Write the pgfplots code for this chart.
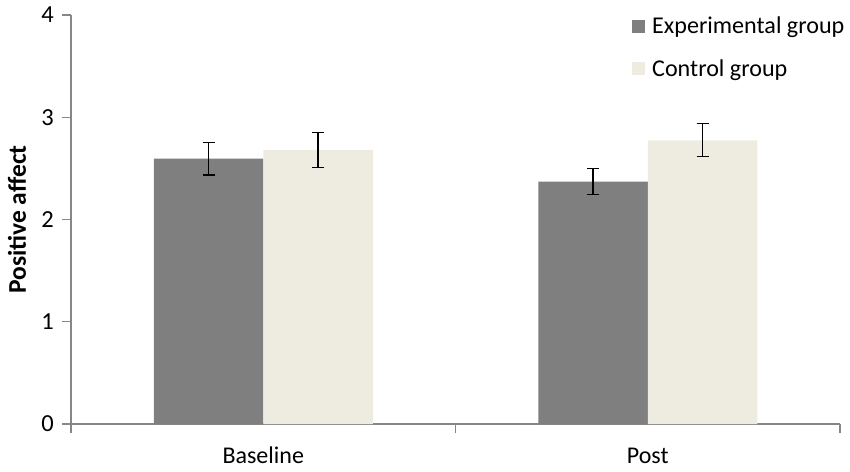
\documentclass[border=0pt]{standalone}
\usepackage{pgfplots}
\pgfplotsset{compat=1.18}
\usepackage{fontspec}
\setmainfont{Carlito}
\definecolor{expc}{HTML}{7F7F7F}
\definecolor{ctlc}{HTML}{EEECE1}
\definecolor{axc}{HTML}{878787}
\begin{document}
\begin{tikzpicture}
\begin{axis}[
  scale only axis,
  width=769pt, height=409pt,
  xmin=-0.5, xmax=1.5, ymin=0, ymax=4,
  axis x line=bottom, axis y line=left,
  axis line style={-, draw=axc, line width=1.3pt},
  font=\fontsize{24}{28.8}\selectfont,
  ticklabel style={font=\fontsize{24}{28.8}\selectfont},
  yticklabel style={font=\fontsize{24.5}{29}\selectfont, xshift=-5pt},
  /pgf/number format/assume math mode=true,
  ytick={0,1,2,3,4},
  xtick={-0.5,0.5,1.5}, xticklabels={},
  extra x ticks={0,1}, extra x tick labels={Baseline,Post},
  extra x tick style={major tick length=0pt,
    xticklabel style={anchor=base, text height=16pt, text depth=5pt, yshift=-39pt}},
  tick align=outside,
  major tick length=8.7pt,
  every tick/.style={draw=axc, line width=1.3pt},
  ylabel={\bfseries Positive affect},
  ylabel style={at={(rel axis cs:0,0.5)}, anchor=center, yshift=54pt,
    font=\fontsize{25.5}{30}\selectfont},
  ybar,
  bar width=109.5pt,
  legend image code/.code={\fill[#1] (0pt,-6.5pt) rectangle (13pt,6.5pt);},
  legend style={draw=none, fill=none, at={(rel axis cs:0.7295,0.995)}, anchor=north west,
    font=\fontsize{24.1}{28.8}\selectfont, row sep=24pt, inner sep=0pt,
    nodes={inner sep=0pt, anchor=west}},
  legend cell align=left,
  error bars/error bar style={line width=1.2pt, black},
  error bars/error mark options={rotate=90, mark size=6pt, line width=1.2pt, black},
]
\addplot[fill=expc, draw=none, bar shift=-54.75pt,
  error bars/.cd, y dir=both, y explicit]
  coordinates {(0,2.595) +- (0,0.16) (1,2.37) +- (0,0.125)};
\addlegendentry{\hspace{7pt}Experimental group}
\addplot[fill=ctlc, draw=none, bar shift=54.75pt,
  error bars/.cd, y dir=both, y explicit]
  coordinates {(0,2.68) +- (0,0.17) (1,2.775) +- (0,0.16)};
\addlegendentry{\hspace{7pt}Control group}
\end{axis}
\pgfresetboundingbox
\path (-71pt,-47pt) rectangle (779pt,424pt);
\end{tikzpicture}
\end{document}
